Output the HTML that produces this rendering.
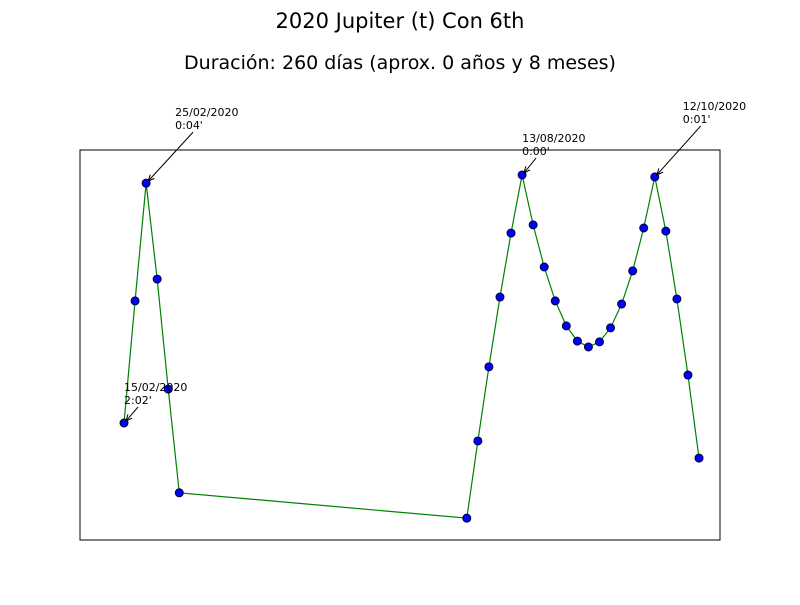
<!DOCTYPE html>
<html><head><meta charset="utf-8"><style>
body{margin:0;background:#fff}
svg text{font-family:"DejaVu Sans","Liberation Sans",sans-serif}
</style></head><body>
<svg id="chart" width="800" height="600">
<defs><marker id="ah" viewBox="0 0 10 10" refX="9" refY="5" markerWidth="7" markerHeight="7" orient="auto"><path d="M0,1 L9,5 L0,9" fill="none" stroke="#000" stroke-width="1.5"/></marker></defs>
<rect width="800" height="600" fill="#fff"/>
<text x="400" y="28" text-anchor="middle" font-size="21">2020 Jupiter (t) Con 6th</text>
<text x="400" y="69" text-anchor="middle" font-size="19">Duración: 260 días (aprox. 0 años y 8 meses)</text>
<rect x="80" y="150" width="640" height="390" fill="none" stroke="#000" stroke-width="1"/>
<g id="series"></g>
<g id="ann"></g>
</svg>
<script>
const days=[0,1,2,3,4,5,31,32,33,34,35,36,37,38,39,40,41,42,43,44,45,46,47,48,49,50,51,52];
const values=[30.0,61.3,91.5,66.9,38.7,12.1,5.6,25.4,44.4,62.3,78.7,93.6,80.8,70.0,61.3,54.9,51.0,49.5,50.8,54.4,60.5,69.0,80.0,93.1,79.2,61.8,42.3,21.0];
const annLabels=["15/02/2020\n2:02'","25/02/2020\n0:04'","13/08/2020\n0:00'","12/10/2020\n0:01'"];
const annIdx=[0,2,11,23];
const annOff=[[0,-36],[29,-71],[0,-37],[28,-71]];
const xs=d=>124+(d)*11.058;
const ys=v=>540-v*3.9;
const ns="http://www.w3.org/2000/svg";
const g=document.getElementById('series');
const pl=document.createElementNS(ns,'polyline');
pl.setAttribute('points',days.map((d,i)=>xs(d)+','+ys(values[i])).join(' '));
pl.setAttribute('fill','none');pl.setAttribute('stroke','#008000');pl.setAttribute('stroke-width','1.2');


g.appendChild(pl);
days.forEach((d,i)=>{const c=document.createElementNS(ns,'circle');
c.setAttribute('cx',xs(d));c.setAttribute('cy',ys(values[i]));c.setAttribute('r',4);
c.setAttribute('fill','#0000ff');c.setAttribute('stroke','#000033');c.setAttribute('stroke-width','1');


g.appendChild(c);});
const a=document.getElementById('ann');
annIdx.forEach((idx,k)=>{const px=xs(days[idx]),py=ys(values[idx]);const tx=px+annOff[k][0],ty=py+annOff[k][1];
const t=document.createElementNS(ns,'text');t.setAttribute('font-size','11');


annLabels[k].split('\n').forEach((s,j)=>{const sp=document.createElementNS(ns,'tspan');sp.setAttribute('x',tx);sp.setAttribute('y',ty+4+j*13);sp.textContent=s;t.appendChild(sp);});
a.appendChild(t);
const l=document.createElementNS(ns,'line');
l.setAttribute('x1',tx+(k%2?18:14));l.setAttribute('y1',ty+20);l.setAttribute('x2',px+2);l.setAttribute('y2',py-2);
l.setAttribute('stroke','#000');l.setAttribute('stroke-width','1');l.setAttribute('marker-end','url(#ah)');


a.appendChild(l);});
</script>
</body></html>
